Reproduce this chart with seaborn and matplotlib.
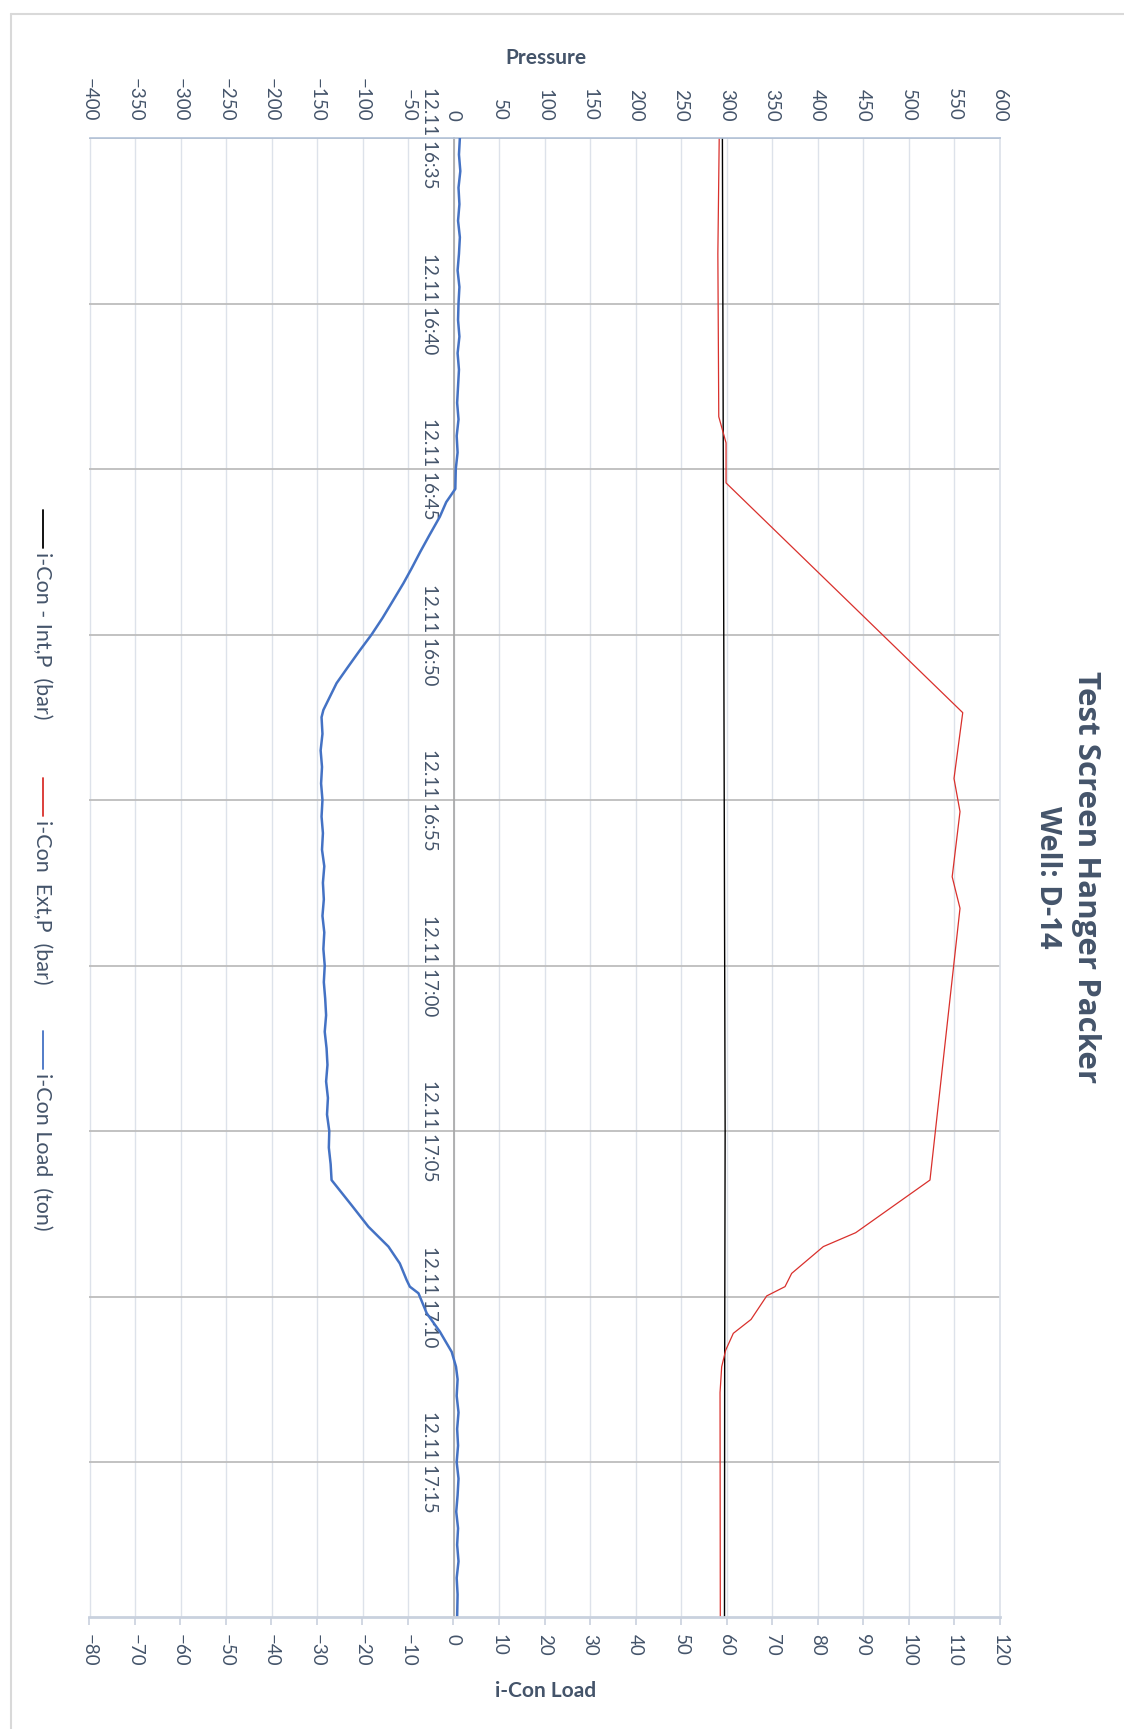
import matplotlib
matplotlib.use("Agg")
import matplotlib.pyplot as plt
import seaborn as sns
from matplotlib.lines import Line2D

# ── Data (minutes after 12.11 16:35) ───────────────────
tick_min = [0, 5, 10, 15, 20, 25, 30, 35, 40]
tick_labels = ["12.11 16:35", "12.11 16:40", "12.11 16:45", "12.11 16:50",
               "12.11 16:55", "12.11 17:00", "12.11 17:05", "12.11 17:10",
               "12.11 17:15"]
t_end = 44.68

int_t = [0, 10, 20, 30, 37, 44.68]
int_p = [295.5, 296.5, 297.5, 298.5, 298.0, 297.8]

ext_t = [0, 3.5, 8.42, 9.21, 10.42, 17.36, 19.35, 20.35, 22.32, 23.27, 31.48,
         33.07, 33.49, 34.3, 34.7, 34.98, 35.69, 36.11, 36.62, 37.12, 37.9, 44.68]
ext_p = [292.0, 290.5, 291.5, 299.5, 299.5, 559.6, 550.0, 556.6, 548.0, 556.6, 523.6,
         442.0, 406.4, 371.6, 364.3, 344.2, 327.0, 307.5, 299.1, 294.7, 292.9, 293.2]

load_t = [0, 0.5, 1, 1.5, 2, 2.5, 3, 3.5, 4, 4.5, 5, 5.5, 6, 6.5, 7, 7.5, 8, 8.5, 9,
          9.5, 10, 10.6,
          11.0, 11.44, 12.0, 12.5, 13.0, 13.45, 14.0, 14.5, 15.0, 15.5, 16.0, 16.47,
          17.0, 17.28,
          17.5, 18, 18.5, 19, 19.5, 20, 20.5, 21, 21.5, 22, 22.5, 23, 23.5, 24, 24.5,
          25, 25.5, 26, 26.5, 27, 27.5, 28, 28.5, 29, 29.5, 30, 30.5, 31, 31.48,
          32.24, 32.89, 33.49, 34.0, 34.5, 34.7, 34.9, 35.5, 36.06, 36.67, 37.12,
          37.5, 38, 38.5, 39, 39.5, 40, 40.5, 41, 41.5, 42, 42.5, 43, 43.5, 44, 44.68]
load_v = [1.4, 1.2, 1.5, 1.1, 1.3, 1.0, 1.4, 1.2, 0.9, 1.3, 1.1, 1.0, 1.3, 0.9, 1.2,
          1.0, 0.8, 1.1, 0.7, 0.9, 0.5, 0.4,
          -1.6, -3.0, -5.3, -7.3, -9.2, -11.0, -13.4, -15.6, -18.0, -20.7, -23.3, -25.7,
          -27.6, -28.6,
          -29.0, -28.8, -29.2, -28.9, -29.1, -28.8, -29.0, -28.7, -28.9, -28.4, -28.7,
          -28.5, -28.8, -28.4, -28.6, -28.3, -28.5, -28.2, -28.0, -28.3, -27.9, -27.7,
          -28.0, -27.6, -27.8, -27.3, -27.4, -27.0, -26.8,
          -22.4, -18.7, -14.3, -11.8, -10.3, -9.6, -7.7, -5.9, -3.0, -0.4, 0.55,
          0.9, 0.7, 1.1, 0.8, 1.0, 0.7, 1.1, 0.9, 0.6, 1.0, 0.8, 1.1, 0.7, 0.9, 0.8]

series_names = ["i-Con - Int,P  (bar)", "i-Con  Ext,P  (bar)", "i-Con Load  (ton)"]
series_colors = ["black", "#D9302C", "#4472C4"]

# ── Style ──────────────────────────────────────────────
sns.set_theme(style="white")
plt.rcParams["font.family"] = ["Lato", "DejaVu Sans"]
txt_col = "#44546A"
W, H = 1124, 1729

fig = plt.figure(figsize=(W / 100, H / 100), dpi=100)
ax = fig.add_axes([89.5 / W, 1 - 1617 / H, 910 / W, 1479 / H])
ax2 = ax.twiny()

sns.lineplot(x=int_p, y=int_t, sort=False, estimator=None,
             color=series_colors[0], lw=1.0, ax=ax)
sns.lineplot(x=ext_p, y=ext_t, sort=False, estimator=None,
             color=series_colors[1], lw=0.9, ax=ax)
sns.lineplot(x=load_v, y=load_t, sort=False, estimator=None,
             color=series_colors[2], lw=1.8, ax=ax2)

# pressure axis (top)
ax.set_xlim(-400, 600)
ax.set_xticks(range(-400, 601, 50))
ax.xaxis.tick_top()
ax.tick_params(axis="x", length=0, pad=12, labelsize=13.5,
               labelcolor=txt_col, labelrotation=-90)

# load axis (bottom)
ax2.set_xlim(-80, 120)
ax2.set_xticks(range(-80, 121, 10))
ax2.xaxis.tick_bottom()
ax2.tick_params(axis="x", direction="out", length=6, width=1.2, color="#C9D1DE",
                pad=6, labelsize=13.5, labelcolor=txt_col, labelrotation=-90)

# time axis at pressure = 0, labels written beside it
ax.set_ylim(t_end, 0)
ax.set_yticks(tick_min)
ax.set_yticklabels([])
ax.tick_params(axis="y", length=0)
for t, lbl in zip(tick_min, tick_labels):
    ax.annotate(lbl, xy=(0, t), xytext=(-11, 0), textcoords="offset points",
                rotation=-90, ha="right", va="center", fontsize=13.5,
                color=txt_col, annotation_clip=False)
ax.spines["left"].set_position(("data", 0))
ax.spines["left"].set_color("#A6A6A6")
ax.spines["left"].set_linewidth(1.2)

ax.grid(axis="x", color="#DDE2EA", lw=1.0)
ax.grid(axis="y", color="#BDBDBD", lw=1.3)
ax.set_axisbelow(True)
ax.set_xlabel("")
ax.set_ylabel("")
ax2.set_xlabel("")

ax.spines["top"].set_color("#B4C3D9")
ax.spines["top"].set_linewidth(1.2)
ax.spines["right"].set_color("#DDE2EA")
ax.spines["bottom"].set_visible(False)
for s in ["top", "left", "right"]:
    ax2.spines[s].set_visible(False)
ax2.spines["bottom"].set_color("#C9D1DE")
ax2.spines["bottom"].set_linewidth(2)

# ── Titles ─────────────────────────────────────────────
fig.text(1086 / W, 1 - 877 / H, "Test Screen Hanger Packer", rotation=-90,
         ha="center", va="center", fontsize=22.5, fontweight="bold",
         color=txt_col, family=["Open Sans", "DejaVu Sans"])
fig.text(1048 / W, 1 - 877 / H, "Well: D-14", rotation=-90,
         ha="center", va="center", fontsize=21, fontweight="bold",
         color=txt_col, family=["Open Sans", "DejaVu Sans"])
fig.text(546 / W, 1 - 58 / H, "Pressure", ha="center", va="center",
         fontsize=15, fontweight="bold", color=txt_col)
fig.text(546 / W, 1 - 1691 / H, "i-Con Load", ha="center", va="center",
         fontsize=15, fontweight="bold", color=txt_col)

# ── Legend (rotated) ───────────────────────────────────
leg_start = [510, 778, 1031]
for y0, name, col in zip(leg_start, series_names, series_colors):
    fig.add_artist(Line2D([43 / W, 43 / W], [1 - y0 / H, 1 - (y0 + 38) / H],
                          color=col, lw=1.3, transform=fig.transFigure))
    fig.text(42 / W, 1 - (y0 + 42) / H, name, rotation=-90, ha="center",
             va="top", fontsize=15.5, color=txt_col)

# ── Chart border ───────────────────────────────────────
fig.add_artist(Line2D([10.5 / W, 10.5 / W], [0, 1 - 14 / H], color="#D9D9D9",
                      lw=1.5, transform=fig.transFigure))
fig.add_artist(Line2D([10.5 / W, 1], [1 - 14 / H, 1 - 14 / H], color="#D9D9D9",
                      lw=1.5, transform=fig.transFigure))

fig.savefig("out.png", dpi=100)
